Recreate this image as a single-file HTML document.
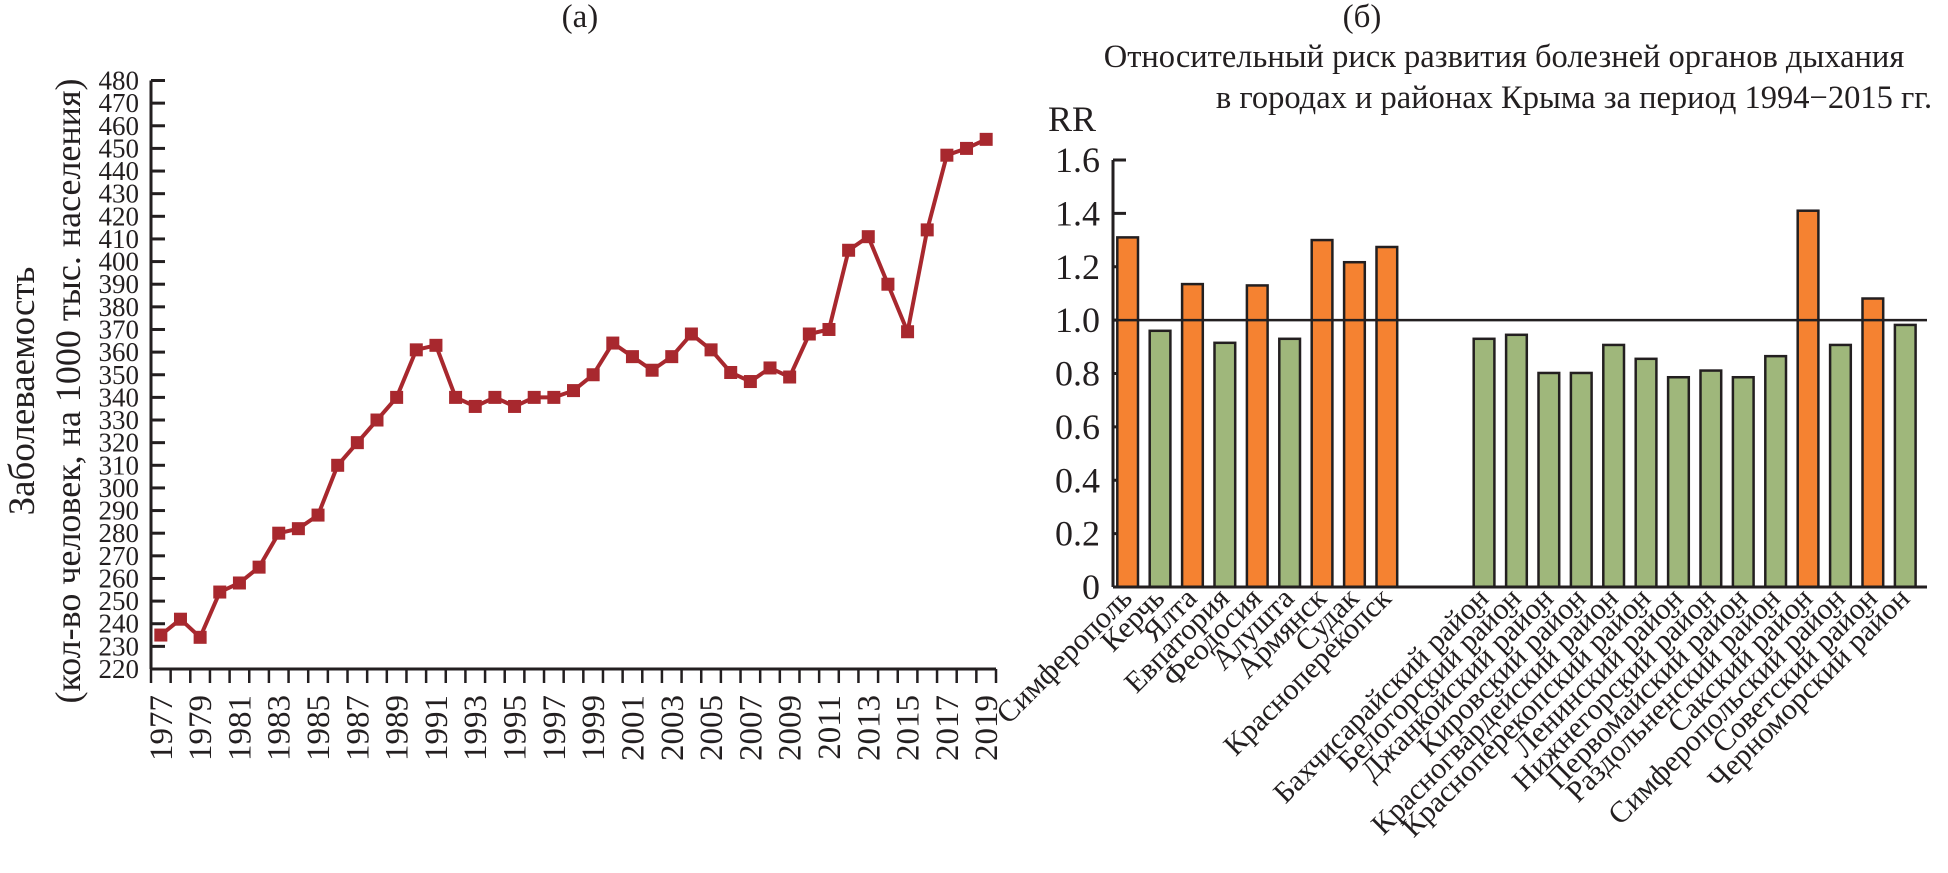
<!DOCTYPE html>
<html><head><meta charset="utf-8"><style>
html,body{margin:0;padding:0;background:#fff;}
svg{display:block;font-family:"Liberation Serif","Noto Serif CJK SC",serif;fill:#231f20;}
</style></head><body>
<svg id="chart" width="1948" height="873" viewBox="0 0 1948 873" xmlns="http://www.w3.org/2000/svg">
<text x="580" y="27" font-size="33" text-anchor="middle">(а)</text>
<text x="1362" y="27" font-size="33" text-anchor="middle">(б)</text>
<text x="1504" y="67" font-size="32.5" text-anchor="middle">Относительный риск развития болезней органов дыхания</text>
<text x="1574" y="108" font-size="32.5" text-anchor="middle">в городах и районах Крыма за период 1994−2015 гг.</text>
<text transform="translate(34,391) rotate(-90)" font-size="37" text-anchor="middle">Заболеваемость</text>
<text transform="translate(80,391) rotate(-90)" font-size="36" text-anchor="middle">(кол-во человек, на 1000 тыс. населения)</text>
<text x="1048" y="131" font-size="36">RR</text>
<g id="left"></g>
<g id="right"></g>
</svg>
<script>
const years = [1977,1978,1979,1980,1981,1982,1983,1984,1985,1986,1987,1988,1989,1990,1991,1992,1993,1994,1995,1996,1997,1998,1999,2000,2001,2002,2003,2004,2005,2006,2007,2008,2009,2010,2011,2012,2013,2014,2015,2016,2017,2018,2019];
const incidence = [235,242,234,254,258,265,280,282,288,310,320,330,340,361,363,340,336,340,336,340,340,343,350,364,358,352,358,368,361,351,347,353,349,368,370,405,411,390,369,414,447,450,454];
const leftTicks = [220,230,240,250,260,270,280,290,300,310,320,330,340,350,360,370,380,390,400,410,420,430,440,450,460,470,480];

const places = ["Симферополь","Керчь","Ялта","Евпатория","Феодосия","Алушта","Армянск","Судак","Красноперекопск","","","Бахчисарайский район","Белогорский район","Джанкойский район","Кировский район","Красногвардейский район","Красноперекопский район","Ленинский район","Нижнегорский район","Первомайский район","Раздольненский район","Сакский район","Симферопольский район","Советский район","Черноморский район"];
const rrValues = [1.31,0.96,1.135,0.915,1.13,0.93,1.30,1.217,1.274,null,null,0.93,0.945,0.802,0.802,0.907,0.855,0.786,0.811,0.786,0.865,1.41,0.907,1.081,0.982];
const rrTicks = ["0","0.2","0.4","0.6","0.8","1.0","1.2","1.4","1.6"];

const NS="http://www.w3.org/2000/svg";
function mk(tag,attrs,parent,txt){const e=document.createElementNS(NS,tag);for(const k in attrs)e.setAttribute(k,attrs[k]);if(txt!==undefined)e.textContent=txt;parent.appendChild(e);return e;}

// Left chart
const L=document.getElementById('left');
const lx0=151,lx1=996,ly0=669,ly1=80.5;
const catW=(lx1-lx0)/years.length;
const xL=i=>lx0+catW*(i+0.5);
const yL=v=>ly0-(v-220)/(480-220)*(ly0-ly1);
let e=mk('line',{x1:lx0,y1:ly1,x2:lx0,y2:ly0,stroke:'#231f20','stroke-width':3},L);


e=mk('line',{x1:lx0,y1:ly0,x2:lx1,y2:ly0,stroke:'#231f20','stroke-width':3},L);


leftTicks.forEach(t=>{const y=yL(t);
  let a=mk('line',{x1:lx0,y1:y,x2:lx0+14,y2:y,stroke:'#231f20','stroke-width':3},L);
  
  
  let b=mk('text',{x:139,y:y+9,'font-size':27,'text-anchor':'end'},L,String(t));
  
  
});
for(let i=0;i<=years.length;i++){const x=lx0+catW*i;
  let a=mk('line',{x1:x,y1:ly0,x2:x,y2:ly0+14,stroke:'#231f20','stroke-width':2.5},L);
  
  
}
years.forEach((yr,i)=>{ if(yr%2===1){
  let t=mk('text',{transform:`translate(${xL(i)+11},695) rotate(-90)`,'font-size':33,'text-anchor':'end'},L,String(yr));
  
  
}});
const pts=incidence.map((v,i)=>xL(i)+','+yL(v)).join(' ');
e=mk('polyline',{points:pts,fill:'none',stroke:'#a8282e','stroke-width':4,'stroke-linejoin':'round'},L);


incidence.forEach((v,i)=>{
  let m=mk('rect',{x:xL(i)-6.5,y:yL(v)-6.5,width:13,height:13,fill:'#a8282e'},L);
  
  
});

// Right chart
const R=document.getElementById('right');
const rx0=1113,rx1=1927,ry0=587,ry1=160;
const slot=32.4,bw=20.7,firstBar=1117.3;
const yR=v=>ry0-v/1.6*(ry0-ry1);
e=mk('line',{x1:rx0,y1:ry1,x2:rx0,y2:ry0,stroke:'#231f20','stroke-width':3},R);


rrTicks.forEach(t=>{const y=yR(parseFloat(t));
  let a=mk('line',{x1:rx0,y1:y,x2:rx0+13,y2:y,stroke:'#231f20','stroke-width':3},R);
  
  
  let b=mk('text',{x:1100,y:y+12,'font-size':36,'text-anchor':'end'},R,t);
  
  
});
rrValues.forEach((v,i)=>{
  const x=firstBar+slot*i;
  if(v!==null){
    const orange=v>1;
    let r=mk('rect',{x:x,y:yR(v),width:bw,height:ry0-yR(v),fill:orange?'#f58231':'#9fb77b',stroke:'#231f20','stroke-width':2.5},R);
    
    
  }
  if(places[i]){
    let t=mk('text',{transform:`translate(${x+bw/2+6},600) rotate(-45)`,'font-size':30,'text-anchor':'end'},R,places[i]);
    
    
  }
});
e=mk('line',{x1:rx0,y1:yR(1),x2:rx1,y2:yR(1),stroke:'#231f20','stroke-width':2.5},R);


e=mk('line',{x1:rx0,y1:ry0,x2:rx1,y2:ry0,stroke:'#231f20','stroke-width':3},R);


</script>
</body></html>
